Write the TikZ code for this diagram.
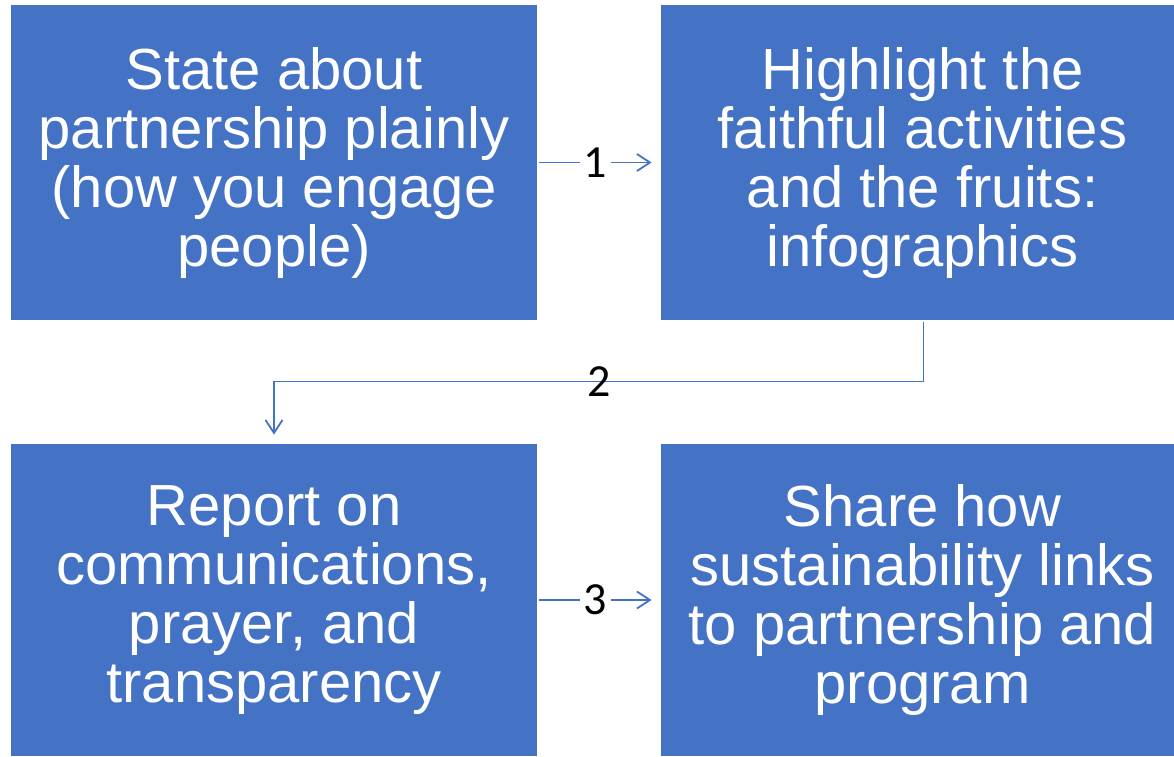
\documentclass[tikz,border=0pt]{standalone}
\usepackage{fontspec}
\setmainfont{Liberation Sans}
\newfontfamily\labelfont{Carlito}
\usetikzlibrary{arrows.meta}
\definecolor{boxblue}{HTML}{4472C4}

\begin{document}
\begin{tikzpicture}
  [
  x=0.5pt, y=-0.5pt,
  font=\fontsize{29}{29.5}\selectfont,
  >={Straight Barb[length=6.5pt,width=8.5pt]}
  ]
  
  % Styles: boxes, links and link numbers
  \tikzstyle{stage box}=[rectangle, fill=boxblue, text=white, align=center, inner sep=0pt, minimum height=157.5pt];
  \tikzstyle{link}=[draw=boxblue, line width=0.9pt, ->];
  \tikzstyle{link label}=[font=\labelfont\fontsize{23}{23}\selectfont, text=black, inner sep=2pt];
  
  \useasboundingbox (0,0) rectangle (1174,756);
  
  % The boxes (the right ones run past the page edge)
  \node(state)[stage box, minimum width=263pt] at (274,162.5)
    {State about\\partnership plainly\\(how you engage\\people)};
  \node(highlight)[stage box, minimum width=261.5pt] at (922.5,162.5)
    {Highlight the\\faithful activities\\and the fruits:\\infographics};
  \node(report)[stage box, minimum width=263pt, minimum height=156pt] at (274,600)
    {Report on\\communications,\\prayer, and\\transparency};
  \node(share)[stage box, minimum width=261.5pt, minimum height=156pt] at (922.5,600)
    {Share how\\sustainability links\\to partnership and\\program};
  
  % The links
  \draw[link]([xshift=1pt]state.east)to node[link label, fill=white]{1}([xshift=-4.5pt]highlight.west);
  \draw[link]([xshift=0.5pt, yshift=-1pt]highlight.south) -- ++(0,59)
    -| node[pos=.25, link label]{2} ([yshift=4.5pt]report.north);
  \draw[link]([xshift=1pt]report.east)to node[link label, fill=white]{3}([xshift=-4.5pt]share.west);
  
\end{tikzpicture}
\end{document}
